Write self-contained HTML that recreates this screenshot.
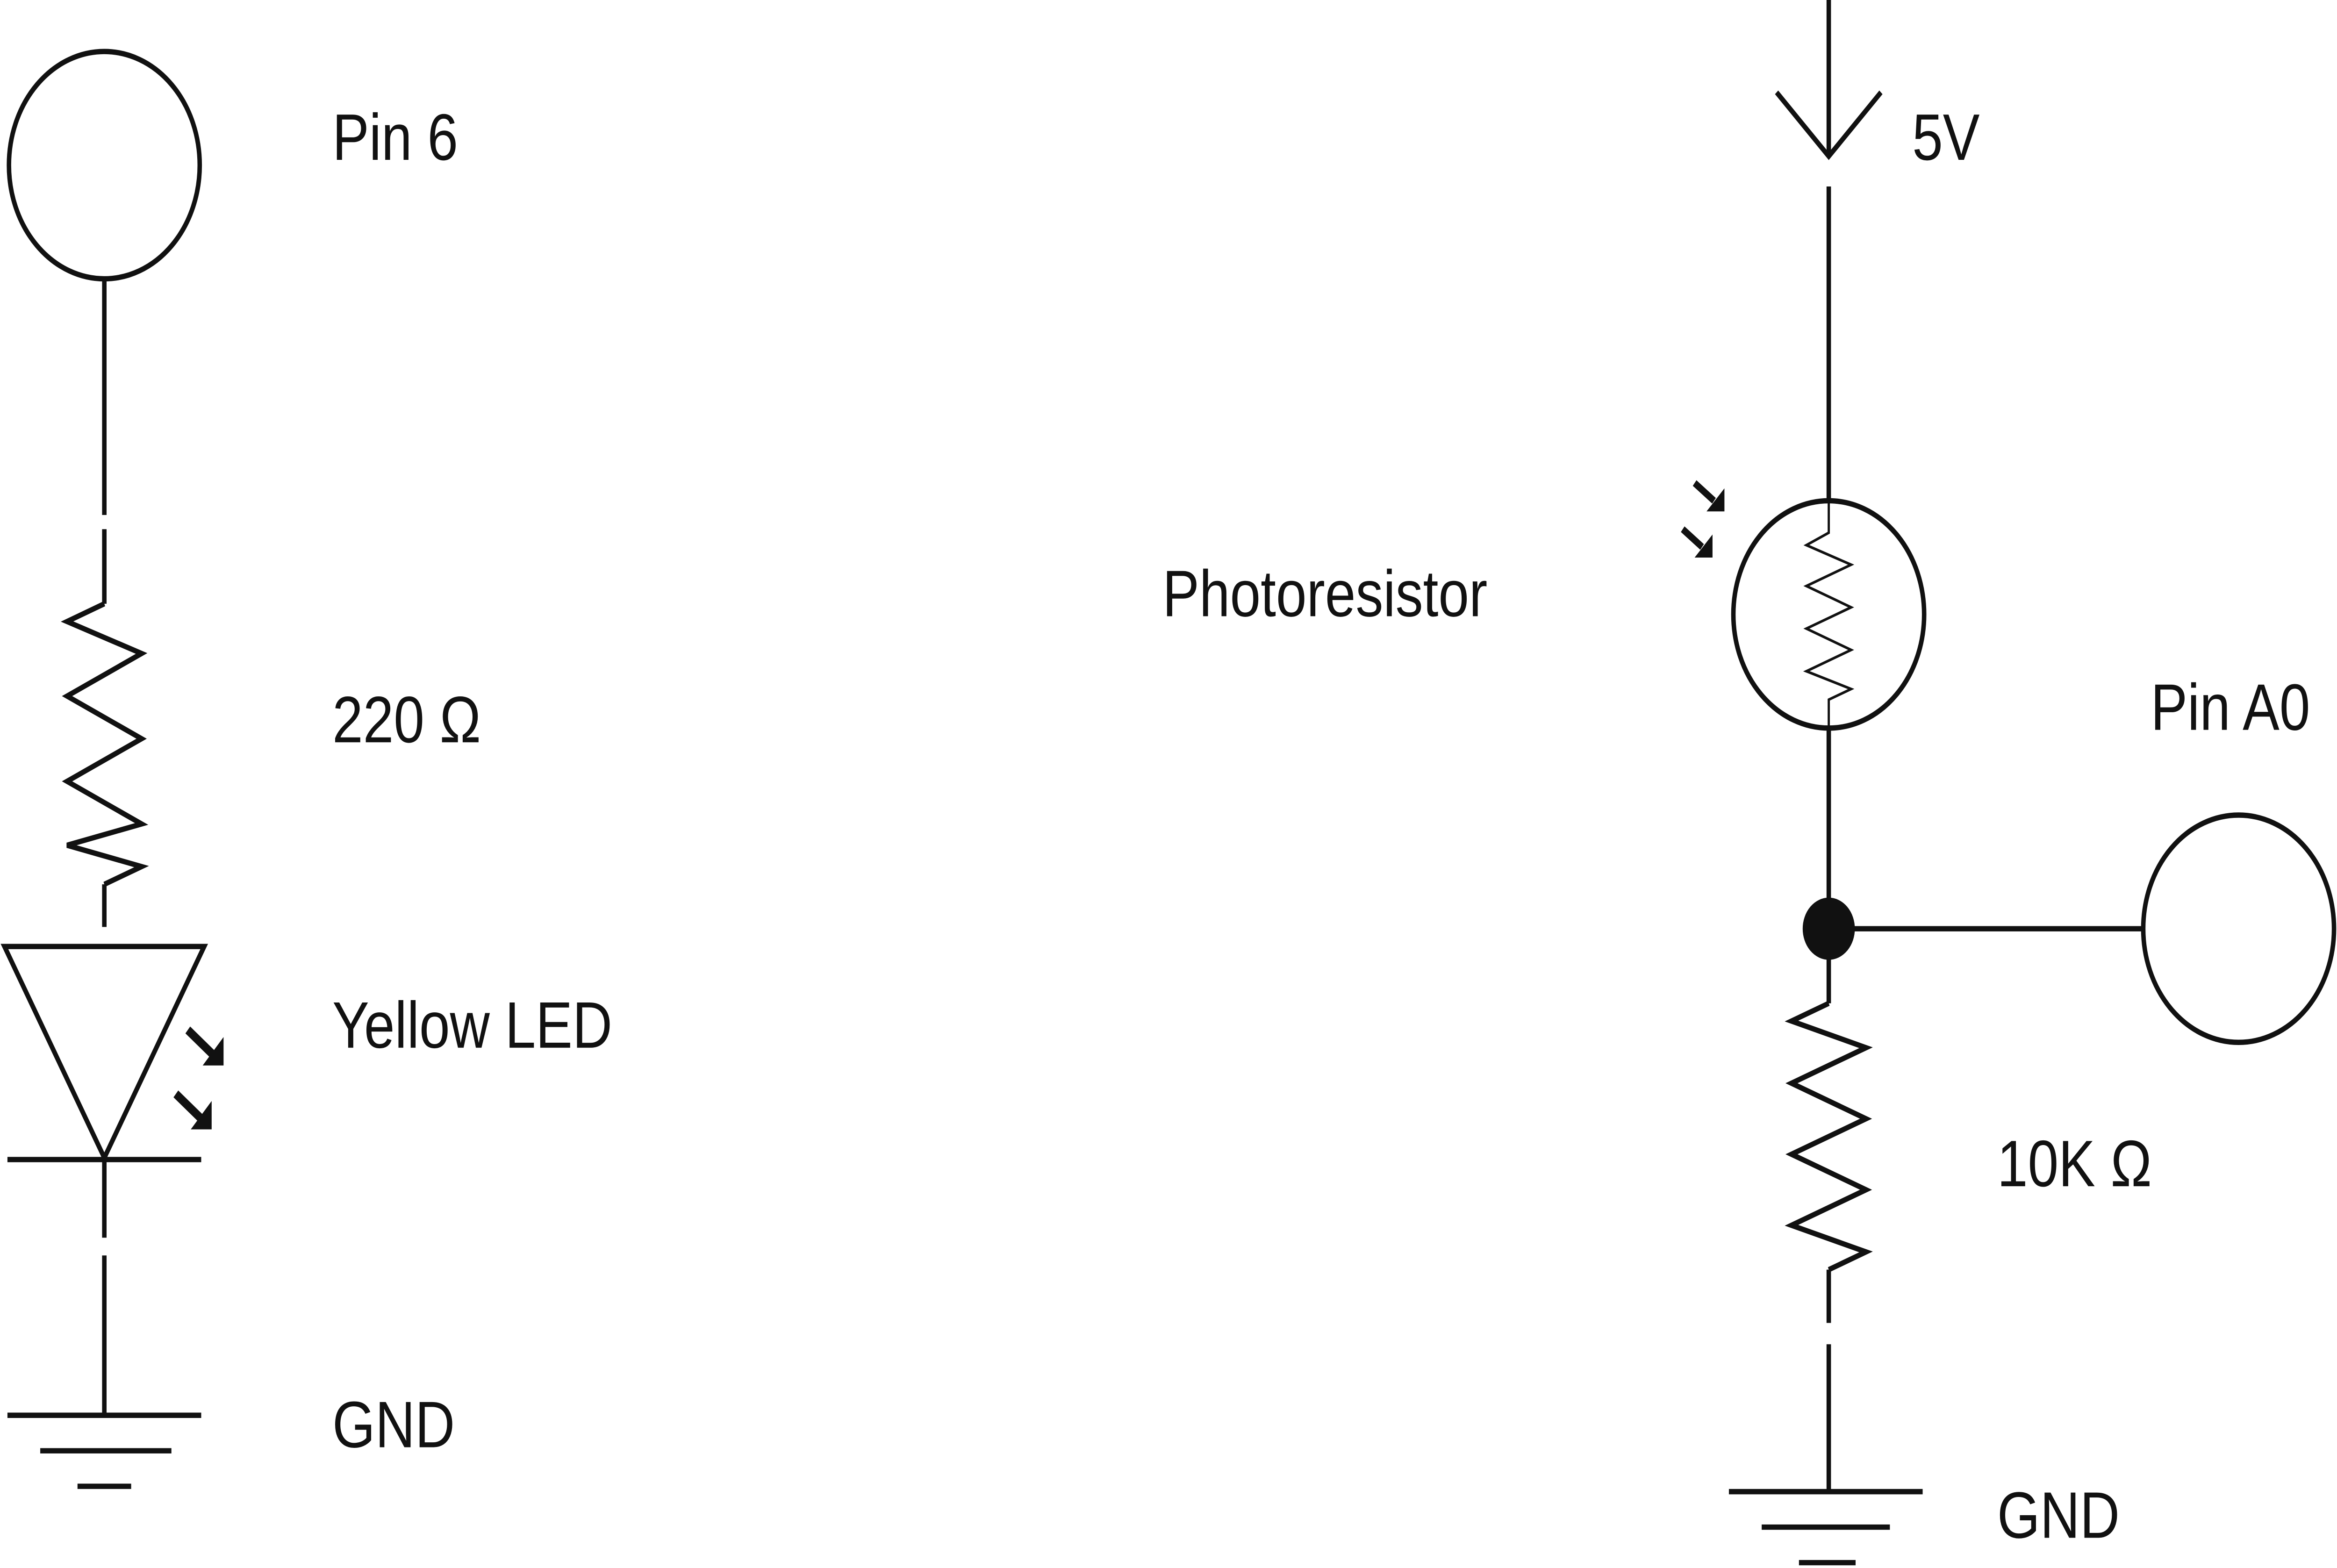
<!DOCTYPE html>
<html><head><meta charset="utf-8"><style>
html,body{margin:0;padding:0;background:#fff;width:100%;height:100%;overflow:hidden;}
svg{display:block;position:fixed;left:0;top:0;width:100%;height:100%;}
text{font-family:"Liberation Sans",sans-serif;font-size:37px;fill:#111;}
</style></head><body>
<svg viewBox="0 0 1568 883" preserveAspectRatio="none">
<g stroke="#111" stroke-width="3" fill="none">
<g>
<circle cx="70" cy="93" r="64"/>
<line x1="70" y1="157" x2="70" y2="290"/>
<line x1="70" y1="298" x2="70" y2="340"/>
<polyline points="70,340 45,350 95,368 45,392 95,416 45,440 95,464 45,476 95,488 70,498"/>
<line x1="70" y1="498" x2="70" y2="522"/>
<polygon points="3,533 137,533 70,652"/>
<line x1="5" y1="653" x2="135" y2="653"/>
<line x1="70" y1="653" x2="70" y2="697"/>
<line x1="70" y1="707" x2="70" y2="797"/>
<g>
<line x1="5" y1="797" x2="135" y2="797"/>
<line x1="27" y1="817" x2="115" y2="817"/>
<line x1="52" y1="837" x2="88" y2="837"/>
</g>
</g>
<g>
<line x1="1227" y1="0" x2="1227" y2="88"/>
<polyline points="1192,52 1227,88 1262,52"/>
<line x1="1227" y1="105" x2="1227" y2="282"/>
<circle cx="1227" cy="346" r="64"/>
<polyline stroke-width="1.5" points="1227,282 1227,300 1212,307 1242,318 1212,330 1242,342 1212,354 1242,366 1212,378 1242,388 1227,394 1227,410"/>
<line x1="1227" y1="410" x2="1227" y2="565"/>
<circle cx="1227" cy="523" r="16" fill="#111"/>
<line x1="1227" y1="523" x2="1438" y2="523"/>
<circle cx="1502" cy="523" r="64"/>
<polyline points="1227,565 1202,575 1252,590 1202,610 1252,630 1202,650 1252,670 1202,690 1252,705 1227,715"/>
<line x1="1227" y1="715" x2="1227" y2="745"/>
<line x1="1227" y1="757" x2="1227" y2="840"/>
<g>
<line x1="1160" y1="840" x2="1290" y2="840"/>
<line x1="1182" y1="860" x2="1268" y2="860"/>
<line x1="1207" y1="880" x2="1245" y2="880"/>
</g>
</g>
</g>
<g fill="#111" stroke="#111" stroke-width="5">
<line x1="126" y1="580" x2="143" y2="594"/><polygon stroke="none" points="150,600 136,600 150,584"/>
<line x1="118" y1="616" x2="135" y2="630"/><polygon stroke="none" points="142,636 128,636 142,620"/>
</g>
<g fill="#111" stroke="#111" stroke-width="4">
<line x1="1137" y1="272" x2="1150" y2="282"/><polygon stroke="none" points="1157,288 1145,288 1157,275"/>
<line x1="1129" y1="298" x2="1142" y2="308"/><polygon stroke="none" points="1149,314 1137,314 1149,301"/>
</g>
<text x="223" y="90">Pin 6</text>
<text x="223" y="418">220 Ω</text>
<text x="223" y="590">Yellow LED</text>
<text x="223" y="815">GND</text>
<text x="1283" y="90">5V</text>
<text x="780" y="347">Photoresistor</text>
<text x="1443" y="411">Pin A0</text>
<text x="1340" y="668">10K Ω</text>
<text x="1340" y="866">GND</text>
</svg>
</body></html>
